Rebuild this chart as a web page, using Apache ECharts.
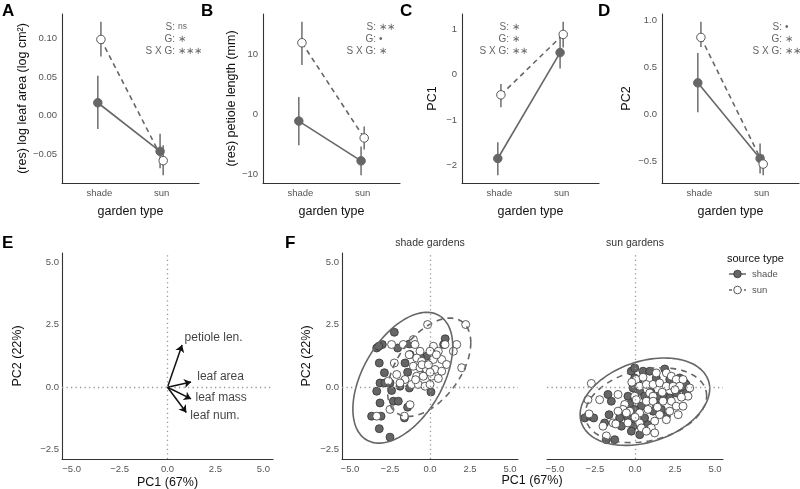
<!DOCTYPE html>
<html><head><meta charset="utf-8">
<script src="https://cdn.jsdelivr.net/npm/echarts@6/dist/echarts.min.js"></script>
<style>html,body{margin:0;padding:0;background:#fff}#c{width:800px;height:489px}</style>
</head><body><div id="c"></div>
<script>
// ---------------- data ----------------
const gardenTypes = ['shade', 'sun'];
const sourceTypes = ['shade', 'sun'];
// [mean, lower, upper] per garden type (shade, sun)
const aShadeSrc = [[0.017, -0.017, 0.052], [-0.046, -0.068, -0.023]];
const aSunSrc   = [[0.099, 0.077, 0.122], [-0.058, -0.077, -0.038]];
const bShadeSrc = [[-1.1, -5.1, 2.9], [-7.7, -10.1, -5.3]];
const bSunSrc   = [[11.9, 8.2, 15.4], [-3.9, -5.8, -2.0]];
const cShadeSrc = [[-1.84, -2.21, -1.48], [0.49, 0.14, 0.81]];
const cSunSrc   = [[-0.44, -0.71, -0.20], [0.89, 0.60, 1.17]];
const dShadeSrc = [[0.337, 0.024, 0.656], [-0.47, -0.63, -0.31]];
const dSunSrc   = [[0.822, 0.72, 0.99], [-0.53, -0.65, -0.43]];
const aTicks = [-0.05, 0, 0.05, 0.10];
const bTicks = [-10, 0, 10];
const cTicks = [-2, -1, 0, 1];
const dTicks = [-0.5, 0, 0.5, 1.0];
const aStats = [['S:', 'ns'], ['G:', '\u2217'], ['S X G:', '\u2217\u2217\u2217']];
const bStats = [['S:', '\u2217\u2217'], ['G:', '\u2022'], ['S X G:', '\u2217']];
const cStats = [['S:', '\u2217'], ['G:', '\u2217'], ['S X G:', '\u2217\u2217']];
const dStats = [['S:', '\u2022'], ['G:', '\u2217'], ['S X G:', '\u2217\u2217']];

// PCA loadings (panel E)
const loadNames = ['petiole len.', 'leaf area', 'leaf mass', 'leaf num.'];
const loadPC1 = [0.76, 1.23, 1.23, 0.98];
const loadPC2 = [1.69, 0.21, -0.47, -1.01];
const loadLabelPC1 = [0.89, 1.55, 1.46, 1.19];
const loadLabelPC2 = [1.97, 0.42, -0.43, -1.15];
const pcTicksX = [-5, -2.5, 0, 2.5, 5];
const pcTicksY = [-2.5, 0, 2.5, 5];

// PCA scores (panel F): [PC1, PC2]
const shadeGardenShadeSrc = [[-2.23,2.20],[-3.33,1.57],[-2.98,1.71],[-2.02,1.57],[-1.29,1.73],[0.95,1.94],[0.85,1.71],[-3.17,0.97],[-1.25,1.31],[-1.56,0.97],[-0.21,1.24],[-2.85,0.58],[-1.40,0.60],[-3.125,0.17],[-2.81,0.17],[-2.5,0.17],[-3.33,-0.16],[-2.40,-0.13],[-1.875,0.04],[-1.29,-0.03],[0.06,-0.19],[-3.125,-0.63],[-2.29,-0.56],[-1.98,-0.56],[-1.40,-0.80],[-3.65,-1.16],[-3.06,-1.16],[-1.60,-1.23],[-3.17,-1.66],[-2.5,-2.00],[0.31,1.44],[-0.31,0.71],[-3.2,1.64],[-0.6,1.2]];
const shadeGardenSunSrc = [[-0.15,2.51],[2.23,2.51],[1.98,0.78],[-2.40,1.71],[-1.67,1.71],[-1.04,1.91],[-0.94,1.71],[0.21,1.64],[0.94,1.71],[1.67,1.71],[1.46,1.44],[-0.625,1.44],[0,1.44],[0.52,1.44],[-2.23,0.97],[-0.83,1.17],[-0.52,1.04],[0.21,1.11],[0.73,1.11],[1.04,0.91],[-1.04,0.84],[-0.625,0.78],[-0.21,0.71],[0.31,0.71],[0.73,0.64],[-2.08,0.51],[-1.56,0.31],[-0.83,0.44],[-0.42,0.44],[0.10,0.44],[0.52,0.35],[-2.6,0.25],[-1.875,0.17],[-1.15,0.11],[-0.73,0.11],[-0.31,0.04],[0,0.11],[-2.5,-0.89],[-1.25,-0.70],[-3.33,-1.16],[-1.60,-1.16],[-0.5,0.9],[-0.1,0.9],[0.4,1.3],[-1.3,1.3],[0.0,0.6],[-0.9,0.3]];
const sunGardenShadeSrc = [[-0.23,0.64],[-0.02,0.77],[0.50,0.64],[0.92,0.64],[1.86,0.73],[-0.02,0.37],[1.33,0.37],[2.17,0.31],[2.79,0.37],[3.11,0.17],[3.21,-0.23],[-0.12,-0.03],[0.19,0.17],[0.29,-0.16],[-0.44,-0.36],[-0.02,-0.43],[0.60,-0.36],[1.44,-0.36],[1.86,-0.36],[2.17,-0.43],[-1.48,-0.56],[-1.69,-0.29],[-0.33,-0.69],[0.40,-0.76],[1.33,-0.69],[1.65,-0.89],[-3.14,-1.23],[-2.83,-1.16],[-2.58,-1.23],[-1.62,-1.10],[-0.75,-1.03],[-0.02,-0.89],[1.13,-0.96],[-1.90,-1.43],[-0.96,-1.23],[-0.44,-1.23],[-0.02,-1.36],[0.60,-1.23],[1.96,-1.16],[-0.85,-1.56],[-0.12,-1.56],[0.81,-1.50],[-0.23,-1.76],[-1.79,-2.10],[-1.27,-2.10],[2.58,-0.23],[2.79,-0.03],[3.2,0.1],[1.0,-0.2],[0.3,-1.9]];
const sunGardenSunSrc = [[-2.73,0.15],[-2.94,-0.50],[-2.21,-0.50],[-2.0,-1.56],[-1.06,-0.29],[-0.02,-0.36],[0.08,0.31],[1.33,0.57],[1.96,0.57],[2.27,0.44],[2.58,0.31],[3.0,0.31],[3.42,-0.03],[3.31,-0.36],[0.29,0.04],[0.71,0.11],[1.13,0.11],[1.54,0.17],[1.96,0.04],[2.38,0.04],[2.79,0.04],[0.92,-0.23],[1.13,-0.36],[-0.64,-0.69],[0.08,-0.50],[0.71,-0.56],[1.13,-0.56],[1.75,-0.56],[2.27,-0.56],[2.58,-0.76],[3.0,-0.76],[-0.75,-0.89],[-0.33,-0.96],[0.29,-1.03],[0.81,-0.89],[1.54,-1.10],[2.17,-0.96],[1.96,-1.30],[1.23,-1.36],[-1.37,-1.43],[-0.44,-1.43],[0.29,-1.43],[1.02,-1.63],[0.40,-1.63],[0.71,-1.76],[1.23,-1.83],[-0.54,-1.03],[-1.06,-0.96],[-1.79,-1.95],[2.9,-0.4],[0.5,0.4],[1.7,-0.2],[2.5,-0.1],[0.0,-1.2],[-0.2,0.2],[1.4,-0.8],[2.7,-1.1],[-2.87,-1.07],[-1.2,-1.47]];
// 95% ellipses: [centre PC1, centre PC2, half-extent PC1, half-extent PC2, correlation]
const ellShadeGardenShadeSrc = [-1.70, 0.38, 3.12, 2.62, 0.48];
const ellShadeGardenSunSrc   = [-0.05, 0.80, 2.60, 1.97, 0.50];
const ellSunGardenShadeSrc   = [0.62, -0.58, 4.05, 1.75, 0.30];
const ellSunGardenSunSrc     = [0.68, -0.72, 3.80, 1.50, 0.25];

// ---------------- styles ----------------
const FONT = 'Liberation Sans';
const GREY = '#666';
const DOT = 0.025; // dodge offset
const grids = [
  {left: 62, top: 14, width: 137, height: 169},
  {left: 263, top: 14, width: 137, height: 169},
  {left: 462, top: 14, width: 137, height: 169},
  {left: 662, top: 14, width: 137, height: 169},
  {left: 62, top: 253, width: 211, height: 206},
  {left: 342, top: 253, width: 176, height: 206},
  {left: 547, top: 253, width: 176, height: 206}
].map(g => Object.assign({outerBoundsMode: 'none', containLabel: false}, g));

const minus = s => s.replace('-', '\u2212');
const axisLine = {show: true, onZero: false, lineStyle: {color: '#333', width: 1.1}};
const tickLbl = {color: '#555', fontSize: 9.5, fontFamily: FONT};
const nameStyle = {color: '#111', fontSize: 12.5, fontFamily: FONT};

const xAxes = [], yAxes = [], series = [];
const panels = [
  {s: aShadeSrc, u: aSunSrc, ticks: aTicks, fmt: v => minus(v.toFixed(2)), name: '(res) log leaf area (log cm\u00b2)', gap: 31},
  {s: bShadeSrc, u: bSunSrc, ticks: bTicks, fmt: v => minus(String(v)), name: '(res) petiole length (mm)', gap: 24},
  {s: cShadeSrc, u: cSunSrc, ticks: cTicks, fmt: v => minus(String(v)), name: 'PC1', gap: 23},
  {s: dShadeSrc, u: dSunSrc, ticks: dTicks, fmt: v => minus(v.toFixed(1)), name: 'PC2', gap: 29}
];
const errRender = (params, api) => {
  const p1 = api.coord([api.value(0), api.value(1)]);
  const p2 = api.coord([api.value(0), api.value(2)]);
  return {type: 'line', shape: {x1: p1[0], y1: p1[1], x2: p2[0], y2: p2[1]}, style: {stroke: '#777', lineWidth: 1.6}};
};
panels.forEach((p, i) => {
  const all = p.s.concat(p.u);
  const lo = Math.min(...all.map(r => r[1])), hi = Math.max(...all.map(r => r[2]));
  const pad = (hi - lo) * 0.05;
  xAxes.push({gridIndex: i, type: 'value', min: 0.4, max: 2.6, axisLine, axisTick: {show: false}, splitLine: {show: false},
    axisLabel: Object.assign({customValues: [1, 2], margin: 5, formatter: v => gardenTypes[Math.round(v) - 1]}, tickLbl),
    name: 'garden type', nameLocation: 'middle', nameGap: 22, nameTextStyle: nameStyle});
  yAxes.push({gridIndex: i, type: 'value', min: lo - pad, max: hi + pad, axisLine, axisTick: {show: false}, splitLine: {show: false},
    axisLabel: Object.assign({customValues: p.ticks, margin: 5, formatter: p.fmt}, tickLbl),
    name: p.name, nameLocation: 'middle', nameGap: p.gap, nameTextStyle: nameStyle});
  [[p.s, -DOT], [p.u, DOT]].forEach(([d, off]) => {
    series.push({type: 'custom', xAxisIndex: i, yAxisIndex: i, z: 1, silent: true, renderItem: errRender,
      encode: {x: 0, y: [1, 2]}, data: d.map((r, j) => [j + 1 + off, r[1], r[2]])});
  });
  [[p.s, -DOT, 'solid', GREY, GREY], [p.u, DOT, [5, 4], '#fff', '#555']].forEach(([d, off, lt, fill, bc]) => {
    series.push({type: 'line', xAxisIndex: i, yAxisIndex: i, z: 3, silent: true, animation: false,
      data: d.map((r, j) => [j + 1 + off, r[0]]),
      lineStyle: {color: GREY, width: 1.6, type: lt},
      symbol: 'circle', symbolSize: 8.5, itemStyle: {color: fill, borderColor: bc, borderWidth: 1}});
  });
});

// PCA axes (E, F shade, F sun)
const dotted = {silent: true, symbol: ['none', 'none'], label: {show: false},
  lineStyle: {color: '#999', type: [1.3, 3.2], width: 1.3}, data: [{xAxis: 0}, {yAxis: 0}], animation: false};
[4, 5, 6].forEach(i => {
  xAxes.push({gridIndex: i, type: 'value', min: -5.5, max: 5.5, axisLine, axisTick: {show: false}, splitLine: {show: false},
    axisLabel: Object.assign({customValues: pcTicksX, margin: 5, formatter: v => minus(v.toFixed(1))}, tickLbl),
    name: i === 4 ? 'PC1 (67%)' : '', nameLocation: 'middle', nameGap: 17, nameTextStyle: nameStyle});
  yAxes.push({gridIndex: i, type: 'value', min: -2.875, max: 5.375, axisLine: Object.assign({}, axisLine, {show: i !== 6}),
    axisTick: {show: false}, splitLine: {show: false},
    axisLabel: Object.assign({show: i !== 6, customValues: pcTicksY, margin: 3, formatter: v => minus(v.toFixed(1))}, tickLbl),
    name: i === 6 ? '' : 'PC2 (22%)', nameLocation: 'middle', nameGap: i === 4 ? 38 : 29, nameTextStyle: nameStyle});
});

// E: loading arrows
series.push({type: 'lines', coordinateSystem: 'cartesian2d', xAxisIndex: 4, yAxisIndex: 4, silent: true, z: 3,
  symbol: ['none', 'arrow'], symbolSize: [0, 7], lineStyle: {color: '#111', width: 1.5, opacity: 1},
  data: loadNames.map((n, k) => ({coords: [[0, 0], [loadPC1[k], loadPC2[k]]]})), markLine: dotted});
series.push({type: 'scatter', xAxisIndex: 4, yAxisIndex: 4, symbolSize: 0, silent: true, z: 4,
  data: loadNames.map((n, k) => ({value: [loadLabelPC1[k], loadLabelPC2[k]], name: n})),
  label: {show: true, position: 'right', distance: 0, formatter: p => p.name, color: '#111', fontSize: 12, fontFamily: FONT}});

// F: ellipses + scores
function ellipse(p) {
  const [cx, cy, rx, ry, rho] = p, s = Math.sqrt(1 - rho * rho), pts = [];
  for (let k = 0; k <= 120; k++) {
    const t = 2 * Math.PI * k / 120;
    pts.push([cx + rx * Math.cos(t), cy + ry * (rho * Math.cos(t) + s * Math.sin(t))]);
  }
  return pts;
}
const facets = [
  {i: 5, sh: shadeGardenShadeSrc, su: shadeGardenSunSrc, es: ellShadeGardenShadeSrc, eu: ellShadeGardenSunSrc},
  {i: 6, sh: sunGardenShadeSrc, su: sunGardenSunSrc, es: ellSunGardenShadeSrc, eu: ellSunGardenSunSrc}
];
facets.forEach(f => {
  series.push({type: 'scatter', xAxisIndex: f.i, yAxisIndex: f.i, silent: true, z: 2, symbolSize: 8, data: f.sh,
    itemStyle: {color: '#666', borderColor: '#333', borderWidth: 0.8, opacity: 1}, markLine: dotted});
  series.push({type: 'scatter', xAxisIndex: f.i, yAxisIndex: f.i, silent: true, z: 2, symbolSize: 8, data: f.su,
    itemStyle: {color: '#fff', borderColor: '#333', borderWidth: 0.8, opacity: 1}});
  series.push({type: 'line', xAxisIndex: f.i, yAxisIndex: f.i, silent: true, z: 3, showSymbol: false, data: ellipse(f.es),
    lineStyle: {color: GREY, width: 1.6}});
  series.push({type: 'line', xAxisIndex: f.i, yAxisIndex: f.i, silent: true, z: 3, showSymbol: false, data: ellipse(f.eu),
    lineStyle: {color: GREY, width: 1.6, type: [6, 5]}});
});

// ---------------- text graphics ----------------
const graphic = [];
const txt = (x, y, text, o) => graphic.push({type: 'text', x, y, silent: true,
  style: Object.assign({text, fontFamily: FONT, fill: '#111', fontSize: 12, align: 'left', verticalAlign: 'middle'}, o || {})});
[['A', 2, 11], ['B', 201, 11], ['C', 400, 11], ['D', 598, 11], ['E', 2, 243], ['F', 285, 243]].forEach(([l, x, y]) =>
  txt(x, y, l, {fontSize: 17, fontWeight: 'bold', fill: '#000'}));
[[aStats, 175], [bStats, 376], [cStats, 509], [dStats, 782]].forEach(([st, cx]) => {
  st.forEach(([lab, val], r) => {
    const y = 27 + r * 12;
    txt(cx, y, lab, {align: 'right', fontSize: 10, fill: '#666'});
    txt(cx + 3, y, val, {fontSize: val === 'ns' ? 8.5 : 10, fill: '#666'});
  });
});
txt(430, 243, 'shade gardens', {align: 'center', fontSize: 10.5, fill: '#333'});
txt(635, 243, 'sun gardens', {align: 'center', fontSize: 10.5, fill: '#333'});
txt(532, 481, 'PC1 (67%)', {align: 'center', fontSize: 12.5});
// legend
txt(727, 259, 'source type', {fontSize: 11});
[['solid', '#666', 274], [[3, 2], '#fff', 290]].forEach(([lt, fill, y], k) => {
  graphic.push({type: 'line', silent: true, shape: {x1: 729, y1: y, x2: 746, y2: y}, style: {stroke: GREY, lineWidth: 1.5, lineDash: lt === 'solid' ? null : lt}});
  graphic.push({type: 'circle', silent: true, shape: {cx: 737.5, cy: y, r: 3.8}, style: {fill, stroke: '#333', lineWidth: 0.8}});
  txt(752, y, sourceTypes[k], {fontSize: 9.5, fill: '#555'});
});

const chart = echarts.init(document.getElementById('c'), null, {renderer: 'canvas'});
chart.setOption({animation: false, backgroundColor: '#fff', grid: grids, xAxis: xAxes, yAxis: yAxes, series, graphic});
</script></body></html>
